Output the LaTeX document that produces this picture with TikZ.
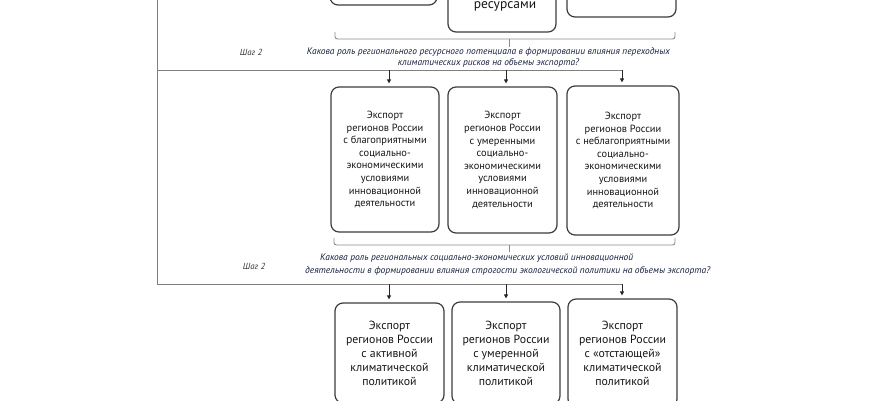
\documentclass[tikz,border=0pt]{standalone}
\usepackage{fontspec}
\usepackage{graphicx}
\setmainfont{PT Sans}
\usetikzlibrary{arrows.meta}
\definecolor{txt}{HTML}{151515}
\definecolor{qtxt}{HTML}{16203C}
\definecolor{steptxt}{HTML}{333333}
\definecolor{boxc}{HTML}{3C3C3C}
\definecolor{connc}{HTML}{808080}
\definecolor{bracec}{HTML}{8A8A8A}
\begin{document}
\begin{tikzpicture}[x=1pt,y=-1pt,
  box/.style={draw=boxc, line width=1.2pt, rounded corners=8pt, align=center,
    text=txt, inner sep=0pt},
  midbox/.style={box, font=\fontsize{10.4}{12.6}\selectfont},
  lowbox/.style={box, font=\fontsize{11.8}{14}\selectfont},
  conn/.style={draw=connc, line width=1pt},
  arr/.style={draw=black!85, line width=0.8pt, -{Triangle[length=4pt,width=4pt]}, shorten >=3pt},
  bracket/.style={draw=bracec, line width=0.9pt, rounded corners=2.5pt},
  steplabel/.style={font=\fontsize{8.8}{10}\selectfont\itshape, text=steptxt, inner sep=0pt},
  question/.style={font=\fontsize{9.5}{11}\selectfont\itshape, text=qtxt, inner sep=0pt}
]
\useasboundingbox (0,0) rectangle (870,400);
\clip (0,0) rectangle (870,400);

% top boxes (cut off by the page edge)
\node[box, minimum width=107pt, minimum height=85pt] (t1) at (383.5,-37.5) {};
\node[box, minimum width=108pt, minimum height=112pt] (t2) at (502,-24) {};
\node[box, minimum width=109pt, minimum height=97pt] (t3) at (621.5,-31.5) {};
\node[font=\fontsize{13.5}{16}\selectfont, text=txt, inner sep=0pt, anchor=north] (t2txt) at (505,1) {ресурсами};

% bracket 1
\draw[bracket] (335,32) -- (335,39) -- (675,39) -- (675,32);
\draw[bracket] (509,39) -- (509,47);

% step 2 (first)
\node[steplabel] (s1) at (251,52) {Шаг 2};
\node[question] (q1a) at (488.5,52) {\resizebox{363pt}{\height}{Какова роль регионального ресурсного потенциала в формировании влияния переходных}};
\node[question] (q1b) at (488.5,63) {\resizebox{181pt}{\height}{климатических рисков на объемы экспорта?}};

% middle boxes
\node[midbox, minimum width=108pt, minimum height=145pt] (m1) at (385,159.5)
  {Экспорт\\регионов России\\с благоприятными\\социально-\\экономическими\\условиями\\инновационной\\деятельности};
\node[midbox, minimum width=109pt, minimum height=146pt] (m2) at (502.5,160)
  {Экспорт\\регионов России\\с умеренными\\социально-\\экономическими\\условиями\\инновационной\\деятельности};
\node[midbox, minimum width=112pt, minimum height=149pt] (m3) at (623,160.5)
  {Экспорт\\регионов России\\с неблагоприятными\\социально-\\экономическими\\условиями\\инновационной\\деятельности};

% bracket 2
\draw[bracket] (334,238) -- (334,245) -- (675,245) -- (675,238);
\draw[bracket] (509,245) -- (509,252);

% step 2 (second)
\node[steplabel] (s2) at (254,266) {Шаг 2};
\node[question, anchor=west] (q2a) at (320,258) {\resizebox{313pt}{\height}{Какова роль региональных социально-экономических условий инновационной}};
\node[question, anchor=west] (q2b) at (305,271) {\resizebox{405pt}{\height}{деятельности в формировании влияния строгости экологической политики на объемы экспорта?}};

% bottom boxes (cut off by the page edge)
\node[lowbox, minimum width=109pt, minimum height=100pt] (b1) at (389.5,353)
  {Экспорт\\регионов России\\с активной\\климатической\\политикой};
\node[lowbox, minimum width=108pt, minimum height=102pt] (b2) at (506,353)
  {Экспорт\\регионов России\\с умеренной\\климатической\\политикой};
\node[lowbox, minimum width=109pt, minimum height=108pt] (b3) at (622.5,353)
  {Экспорт\\регионов России\\с «отстающей»\\климатической\\политикой};

% connectors
\coordinate (L0) at (157,-5);
\coordinate (L1) at (157,70);
\coordinate (L2) at (157,284);
\coordinate (h1) at (622,70);
\coordinate (h2) at (622,284);
\coordinate (a1) at (389,70);
\coordinate (a2) at (506,70);
\coordinate (c1) at (389,284);
\coordinate (c2) at (506,284);
\draw[conn] (L0) -- (L2) -- (h2);
\draw[conn] (L1) -- (h1);
\draw[arr] (a1) -- (a1 |- m1.north);
\draw[arr] (a2) -- (a2 |- m2.north);
\draw[arr] (h1) -- (h1 |- m3.north);
\draw[arr] (c1) -- (c1 |- b1.north);
\draw[arr] (c2) -- (c2 |- b2.north);
\draw[arr] (h2) -- (h2 |- b3.north);
\end{tikzpicture}
\end{document}
